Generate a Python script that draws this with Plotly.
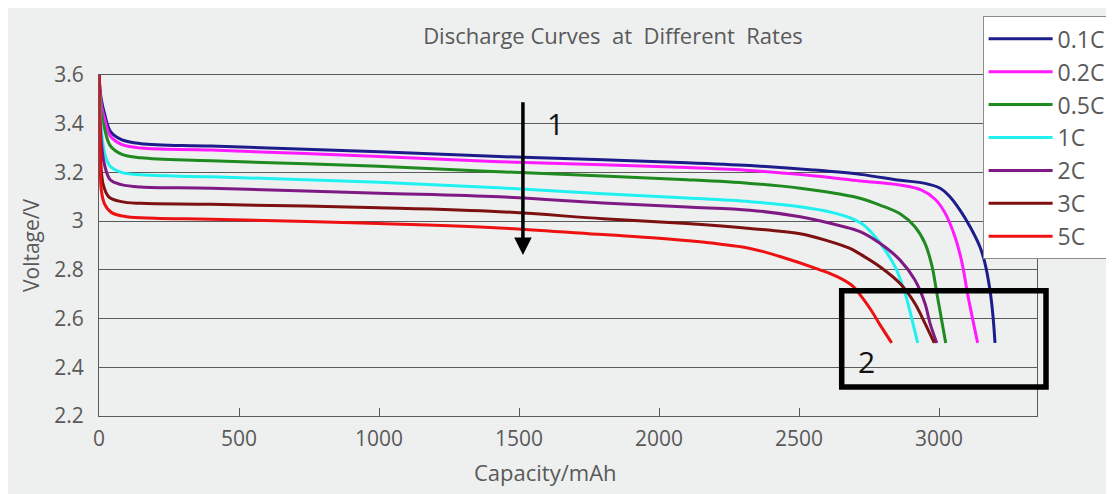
import plotly.graph_objects as go

# ---------------- data ----------------
rates = ["0.1C", "0.2C", "0.5C", "1C", "2C", "3C", "5C"]
colors = ["#1c1c8a", "#ff1aff", "#1f8a1f", "#1ff0f0", "#7f1a85", "#7d1010", "#ee1111"]

cap_01C = [0, 8, 20, 40, 80, 150, 400, 1000, 1430, 1800, 2100, 2325, 2550, 2718, 2861, 2950, 3004, 3039, 3075, 3111, 3146, 3164, 3182, 3193, 3200]
v_01C = [3.60, 3.50, 3.44, 3.37, 3.335, 3.318, 3.308, 3.285, 3.265, 3.252, 3.240, 3.228, 3.21, 3.192, 3.168, 3.155, 3.135, 3.10, 3.045, 2.977, 2.895, 2.828, 2.717, 2.608, 2.50]

cap_02C = [0, 8, 20, 40, 80, 150, 400, 1000, 1430, 1800, 2100, 2325, 2550, 2718, 2861, 2936, 2986, 3021, 3057, 3082, 3104, 3138]
v_02C = [3.60, 3.48, 3.42, 3.35, 3.315, 3.300, 3.292, 3.265, 3.244, 3.232, 3.22, 3.208, 3.186, 3.165, 3.148, 3.128, 3.09, 3.035, 2.936, 2.83, 2.69, 2.50]

cap_05C = [0, 8, 20, 40, 80, 150, 400, 1000, 1430, 1800, 2100, 2325, 2504, 2650, 2718, 2789, 2861, 2914, 2950, 2975, 2993, 3024]
v_05C = [3.60, 3.45, 3.38, 3.31, 3.275, 3.26, 3.248, 3.225, 3.203, 3.185, 3.17, 3.155, 3.135, 3.11, 3.094, 3.066, 3.03, 2.977, 2.909, 2.815, 2.70, 2.50]

cap_1C = [0, 8, 20, 40, 80, 150, 400, 1000, 1430, 1800, 2100, 2325, 2504, 2620, 2690, 2730, 2765, 2807, 2843, 2879, 2904, 2924]
v_1C = [3.60, 3.38, 3.28, 3.225, 3.20, 3.19, 3.182, 3.16, 3.137, 3.112, 3.095, 3.08, 3.059, 3.035, 3.01, 2.985, 2.945, 2.882, 2.813, 2.703, 2.594, 2.50]

cap_2C = [0, 8, 20, 40, 80, 150, 400, 1000, 1430, 1800, 2100, 2325, 2504, 2650, 2718, 2789, 2861, 2914, 2950, 2968, 2992]
v_2C = [3.60, 3.33, 3.23, 3.17, 3.15, 3.14, 3.135, 3.115, 3.10, 3.075, 3.058, 3.045, 3.018, 2.98, 2.957, 2.909, 2.84, 2.758, 2.662, 2.58, 2.50]

cap_3C = [0, 6, 15, 35, 80, 150, 400, 1000, 1430, 1800, 2100, 2325, 2504, 2600, 2682, 2718, 2789, 2861, 2914, 2950, 2983]
v_3C = [3.60, 3.25, 3.15, 3.10, 3.08, 3.073, 3.069, 3.055, 3.039, 3.01, 2.99, 2.97, 2.948, 2.92, 2.888, 2.865, 2.813, 2.744, 2.662, 2.58, 2.50]

cap_5C = [0, 4, 8, 20, 45, 100, 200, 400, 1000, 1430, 1800, 2000, 2146, 2325, 2432, 2575, 2640, 2690, 2730, 2760, 2789, 2831]
v_5C = [3.60, 3.30, 3.13, 3.07, 3.035, 3.018, 3.012, 3.008, 2.99, 2.972, 2.945, 2.93, 2.915, 2.888, 2.855, 2.80, 2.77, 2.735, 2.68, 2.63, 2.575, 2.50]

capacities = [cap_01C, cap_02C, cap_05C, cap_1C, cap_2C, cap_3C, cap_5C]
voltages = [v_01C, v_02C, v_05C, v_1C, v_2C, v_3C, v_5C]

x_ticks = [0, 500, 1000, 1500, 2000, 2500, 3000]
y_ticks = [2.2, 2.4, 2.6, 2.8, 3.0, 3.2, 3.4, 3.6]

# ---------------- figure ----------------
FONT = "Open Sans"
TXT = "#595959"
GRID = "#5a5a5a"
BG = "#eeefef"

fig = go.Figure()
for name, col, xs, ys in zip(rates, colors, capacities, voltages):
    fig.add_trace(go.Scatter(x=xs, y=ys, mode="lines", name=name,
                             line=dict(color=col, width=3, shape="spline", smoothing=1.0)))

fig.update_layout(
    width=1106, height=486,
    margin=dict(l=91, r=77, t=67, b=78, autoexpand=False),
    paper_bgcolor=BG, plot_bgcolor=BG,
    font=dict(family=FONT, color=TXT, size=21),
    title=dict(text="Discharge Curves\u00a0 at\u00a0 Different\u00a0 Rates",
               xref="container", x=0.547, xanchor="center",
               yref="container", y=0.942, yanchor="middle",
               font=dict(size=22, color=TXT, family=FONT)),
    showlegend=True,
    legend=dict(x=0.942, xanchor="left", y=1.172, yanchor="top",
                bgcolor="white", bordercolor="#8c8c8c", borderwidth=1,
                font=dict(size=23, color=TXT, family=FONT),
                itemwidth=64, tracegroupgap=0),
)

fig.update_xaxes(
    range=[0, 3350], tickvals=x_ticks,
    showgrid=False, zeroline=False,
    showline=True, linecolor=GRID, linewidth=1, mirror=True,
    ticks="inside", ticklen=8, tickcolor=GRID, tickwidth=1,
    ticklabelstandoff=4, tickfont=dict(size=21),
)
fig.update_yaxes(
    range=[2.2, 3.6], tickvals=y_ticks,
    showgrid=True, gridcolor=GRID, gridwidth=1, zeroline=False,
    showline=True, linecolor=GRID, linewidth=1, mirror=True,
    ticks="", ticklabelstandoff=10, tickfont=dict(size=21),
    title=dict(text="Voltage/V", font=dict(size=21, color=TXT), standoff=8),
)

# x-axis title (placed slightly left of centre, as in the reference)
fig.add_annotation(x=0.4755, y=-0.164, xref="paper", yref="paper",
                   text="Capacity/mAh", showarrow=False, yanchor="middle",
                   font=dict(size=22, color=TXT, family=FONT))

# arrow "1"
fig.add_annotation(x=1514, y=2.861, ax=1514, ay=3.494, xref="x", yref="y",
                   axref="x", ayref="y", text="", showarrow=True,
                   arrowhead=2, arrowsize=1, arrowwidth=3.5, arrowcolor="black")
fig.add_annotation(x=1632, y=3.402, xref="x", yref="y", text="1", showarrow=False,
                   font=dict(size=30, color="#111111", family=FONT))

# box "2"
fig.add_shape(type="rect", xref="paper", yref="paper",
              x0=0.7918, x1=1.0096, y0=0.085, y1=0.3675,
              line=dict(color="black", width=5.5), fillcolor="rgba(0,0,0,0)")
fig.add_annotation(x=2741, y=2.423, xref="x", yref="y", text="2", showarrow=False,
                   font=dict(size=30, color="#111111", family=FONT))

fig.write_html("out.html")
